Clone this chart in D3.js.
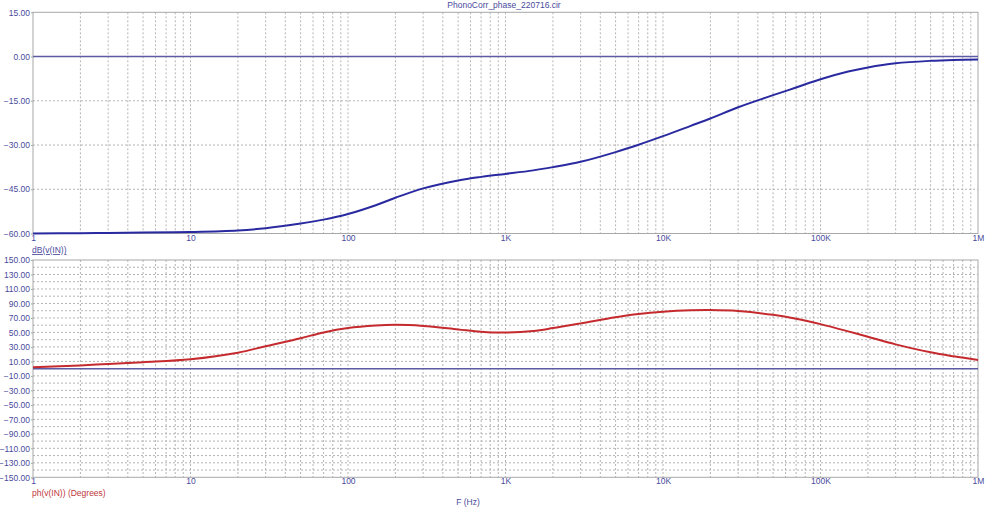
<!DOCTYPE html>
<html>
<head>
<meta charset="utf-8">
<script src="https://cdn.jsdelivr.net/npm/d3@7"></script>
<style>
  html, body { margin: 0; padding: 0; background: #fff; }
  svg { display: block; font-family: "Liberation Sans", Arial, sans-serif; }
</style>
</head>
<body>
<svg id="chart" width="1000" height="513"></svg>
<script>
// ---- data ----
const titleText = "PhonoCorr_phase_220716.cir";
const freqs = [1, 2, 3, 5, 10, 20, 30, 50, 70, 100, 150, 200, 300, 500, 700, 1000, 1500, 2000, 3000, 5000, 7000, 10000, 15000, 20000, 30000, 50000, 70000, 100000, 150000, 200000, 300000, 500000, 700000, 1000000];
const magDb = [-60, -59.9, -59.8, -59.7, -59.5, -59.0, -58.2, -56.6, -55.3, -53.4, -50.4, -47.9, -44.7, -42.0, -40.8, -39.8, -38.6, -37.5, -35.7, -32.4, -29.9, -27.0, -23.5, -21.0, -17.2, -13.1, -10.5, -7.7, -5.1, -3.7, -2.3, -1.45, -1.15, -1.0];
const phaseDeg = [2, 4.5, 6.5, 9, 13, 22, 31, 42, 50, 56, 59.5, 60.5, 59, 54.2, 51, 49.8, 52, 56, 62.5, 71, 75.5, 78.6, 80.5, 80.8, 79.5, 74.3, 69, 61.5, 51.5, 44, 33.5, 22.5, 17, 12];
const xTickValues = [1, 10, 100, 1000, 10000, 100000, 1000000];
const xTickLabels = ["1", "10", "100", "1K", "10K", "100K", "1M"];
const magTicks = [15, 0, -15, -30, -45, -60];
const phaseTicks = [150, 130, 110, 90, 70, 50, 30, 10, -10, -30, -50, -70, -90, -110, -130, -150];
const phaseGrid = d3.range(-150, 151, 10);
const magLabel = "dB(v(IN))";
const phaseLabel = "ph(v(IN)) (Degrees)";
const xLabel = "F (Hz)";

// ---- layout ----
const svg = d3.select("#chart");
const L = 33, R = 978;
const top1 = 12.3, bot1 = 233.5;
const top2 = 260, bot2 = 477.3;
const axisColor = "#4a4a9c";
const gridColor = "#b4b4b4";
const frameColor = "#a8a8a8";

const x = d3.scaleLog().domain([1, 1e6]).range([L, R]);
const y1 = d3.scaleLinear().domain([-60, 15]).range([bot1, top1]);
const y2 = d3.scaleLinear().domain([-150, 150]).range([bot2, top2]);

// minor log grid values
const logGrid = [];
for (let d = 1; d < 1e6; d *= 10) for (let m = 1; m < 10; m++) logGrid.push(d * m);
logGrid.push(1e6);

function panel(yScale, top, bot, hGrid, yTicks, zeroVal) {
  const g = svg.append("g");
  g.selectAll("line.vg").data(logGrid.filter(v => v > 1 && v < 1e6)).join("line")
    .attr("x1", d => x(d)).attr("x2", d => x(d))
    .attr("y1", top).attr("y2", bot)
    .attr("stroke", gridColor).attr("stroke-width", 1).attr("stroke-dasharray", "2,2");
  g.selectAll("line.hg").data(hGrid.filter(v => yScale(v) > top + 1 && yScale(v) < bot - 1)).join("line")
    .attr("x1", L).attr("x2", R)
    .attr("y1", d => yScale(d)).attr("y2", d => yScale(d))
    .attr("stroke", gridColor).attr("stroke-width", 1).attr("stroke-dasharray", "2,2");
  g.append("rect").attr("x", L).attr("y", top).attr("width", R - L).attr("height", bot - top)
    .attr("fill", "none").attr("stroke", frameColor).attr("stroke-width", 1);
  g.append("line").attr("x1", L).attr("x2", R)
    .attr("y1", yScale(zeroVal)).attr("y2", yScale(zeroVal))
    .attr("stroke", "#5c5ca4").attr("stroke-width", 1.5);
  const ax = g.append("g").attr("transform", `translate(${L},0)`)
    .call(d3.axisLeft(yScale).tickValues(yTicks).tickSize(2).tickPadding(1).tickFormat(d3.format(".2f")));
  ax.select(".domain").remove();
  ax.selectAll("line").attr("stroke", frameColor);
  ax.selectAll("text").attr("fill", axisColor).attr("font-size", 8.5).attr("font-family", "Liberation Sans, Arial, sans-serif");
  const xa = g.append("g").attr("transform", `translate(0,${bot})`)
    .call(d3.axisBottom(x).tickValues(xTickValues).tickSize(0).tickPadding(1)
      .tickFormat((d, i) => xTickLabels[i]));
  xa.select(".domain").remove();
  xa.selectAll("text").attr("fill", axisColor).attr("font-size", 8.5).attr("font-family", "Liberation Sans, Arial, sans-serif");
  return g;
}

panel(y1, top1, bot1, magTicks, magTicks, 0);
panel(y2, top2, bot2, phaseGrid, phaseTicks, 0);

// curves
const line1 = d3.line().x((d, i) => x(freqs[i])).y(d => y1(d)).curve(d3.curveCatmullRom.alpha(0.5));
const line2 = d3.line().x((d, i) => x(freqs[i])).y(d => y2(d)).curve(d3.curveCatmullRom.alpha(0.5));

svg.append("path").attr("d", line1(magDb)).attr("fill", "none")
  .attr("stroke", "#2a2aa0").attr("stroke-width", 2);
svg.append("path").attr("d", line2(phaseDeg)).attr("fill", "none")
  .attr("stroke", "#c42a2e").attr("stroke-width", 2);

// texts
svg.append("text").attr("x", 504).attr("y", 8).attr("text-anchor", "middle")
  .attr("font-size", 8.5).attr("fill", axisColor).text(titleText);
svg.append("text").attr("x", 32).attr("y", 253).attr("font-size", 8.5)
  .attr("fill", axisColor).attr("text-decoration", "underline").text(magLabel);
svg.append("text").attr("x", 32).attr("y", 496).attr("font-size", 8.5)
  .attr("fill", "#c0383c").text(phaseLabel);
svg.append("text").attr("x", 468).attr("y", 505).attr("text-anchor", "middle")
  .attr("font-size", 8.5).attr("fill", axisColor).text(xLabel);
</script>
</body>
</html>
